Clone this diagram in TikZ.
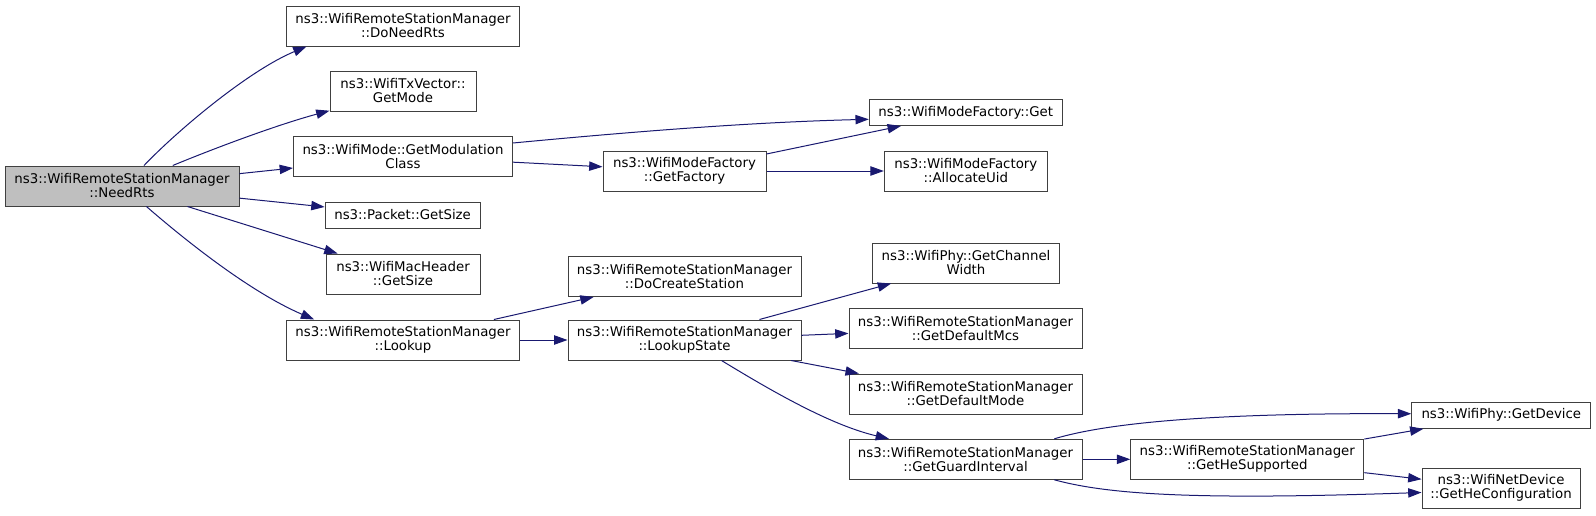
\documentclass[tikz,border=0pt]{standalone}
\usepackage{fontspec}
\setmainfont{DejaVu Sans}
\usepackage{xcolor}
\usetikzlibrary{arrows.meta,positioning}
\definecolor{edgeblue}{HTML}{191970}
\definecolor{boxgrey}{HTML}{404040}
\definecolor{focusgrey}{HTML}{BFBFBF}

\begin{document}
\begin{tikzpicture}[
  x=0.75pt, y=-0.75pt,
  font=\fontsize{10}{10.5}\selectfont,
  callnode/.style={draw=boxgrey, fill=white, line width=0.75pt,
    inner sep=2pt, align=center, minimum height=30pt},
  focusnode/.style={callnode, fill=focusgrey},
  flatnode/.style={callnode, minimum height=19.5pt},
  calledge/.style={-{Triangle[length=10pt, width=7pt]}, edgeblue, line width=0.75pt}
]
\useasboundingbox (0,0) rectangle (1596,515);
% ---------------- caller ----------------
\node[focusnode, minimum width=175.5pt] (needrts) at (122,186) {ns3::WifiRemoteStationManager\\::NeedRts};
% ---------------- first level ----------------
\node[callnode, minimum width=174.75pt] (doneedrts) at (403,26) {ns3::WifiRemoteStationManager\\::DoNeedRts};
\node[callnode, minimum width=109.5pt] (getmode) at (403,91) {ns3::WifiTxVector::\\GetMode};
\node[callnode, minimum width=164.25pt] (modclass) at (403,156.5) {ns3::WifiMode::GetModulation\\Class};
\node[flatnode, minimum width=116.25pt] (pktsize) at (402.6,215) {ns3::Packet::GetSize};
\node[callnode, minimum width=115.5pt] (machdr) at (403,274) {ns3::WifiMacHeader\\::GetSize};
\node[callnode, minimum width=174.75pt] (lookup) at (403,340) {ns3::WifiRemoteStationManager\\::Lookup};
% ---------------- second level ----------------
\node[callnode, minimum width=122.25pt] (getfactory) at (684.5,171) {ns3::WifiModeFactory\\::GetFactory};
\node[callnode, minimum width=174.75pt] (docreate) at (684.5,276.5) {ns3::WifiRemoteStationManager\\::DoCreateStation};
\node[callnode, minimum width=174.75pt] (lookupstate) at (684.5,340) {ns3::WifiRemoteStationManager\\::LookupState};
% ---------------- third level ----------------
\node[flatnode, minimum width=144.75pt] (mfget) at (965.8,112.5) {ns3::WifiModeFactory::Get};
\node[callnode, minimum width=122.25pt] (allocuid) at (965.8,171) {ns3::WifiModeFactory\\::AllocateUid};
\node[callnode, minimum width=140.25pt] (chanwidth) at (966,263) {ns3::WifiPhy::GetChannel\\Width};
\node[callnode, minimum width=174.75pt] (defmcs) at (965.5,328.7) {ns3::WifiRemoteStationManager\\::GetDefaultMcs};
\node[callnode, minimum width=174.75pt] (defmode) at (965.5,394) {ns3::WifiRemoteStationManager\\::GetDefaultMode};
\node[callnode, minimum width=174.75pt] (guard) at (965.5,459.3) {ns3::WifiRemoteStationManager\\::GetGuardInterval};
% ---------------- last levels ----------------
\node[callnode, minimum width=174.75pt] (hesupp) at (1247.3,459.3) {ns3::WifiRemoteStationManager\\::GetHeSupported};
\node[flatnode, minimum width=134.25pt] (getdevice) at (1501.3,415.3) {ns3::WifiPhy::GetDevice};
\node[callnode, minimum width=118.5pt] (heconf) at (1501,488.3) {ns3::WifiNetDevice\\::GetHeConfiguration};
% edges out of NeedRts
\draw[calledge] (needrts.43) .. controls (180,128) and (250,70) .. (doneedrts.-168);
\draw[calledge] (needrts.22) .. controls (220,146) and (280,124) .. (getmode.-165);
\draw[calledge] (needrts) -- (modclass);
\draw[calledge] (needrts) -- (pktsize);
\draw[calledge] (needrts) -- (machdr);
\draw[calledge] (needrts.-40) .. controls (185,240) and (250,292) .. (lookup.167);
% edges out of GetModulationClass
\draw[calledge] (modclass.7) .. controls (650,130) and (760,122) .. (mfget.-176.6);
\draw[calledge] (modclass) -- (getfactory);
\draw[calledge] (getfactory) -- (mfget);
\draw[calledge] (getfactory) -- (allocuid);
% edges out of Lookup
\draw[calledge] (lookup) -- (docreate);
\draw[calledge] (lookup) -- (lookupstate);
\draw[calledge] (lookupstate) -- (chanwidth);
\draw[calledge] (lookupstate) -- (defmcs);
\draw[calledge] (lookupstate) -- (defmode);
\draw[calledge] (lookupstate.-29.4) .. controls (770,390) and (830,425) .. (guard.165.5);
% edges out of GetGuardInterval
\draw[calledge] (guard.13.1) .. controls (1110,422) and (1220,413) .. (getdevice.179);
\draw[calledge] (guard) -- (hesupp);
\draw[calledge] (guard.-13.5) .. controls (1110,495) and (1200,500) .. (heconf.-177.5);
\draw[calledge] (hesupp) -- (getdevice);
\draw[calledge] (hesupp) -- (heconf);
\end{tikzpicture}
\end{document}
